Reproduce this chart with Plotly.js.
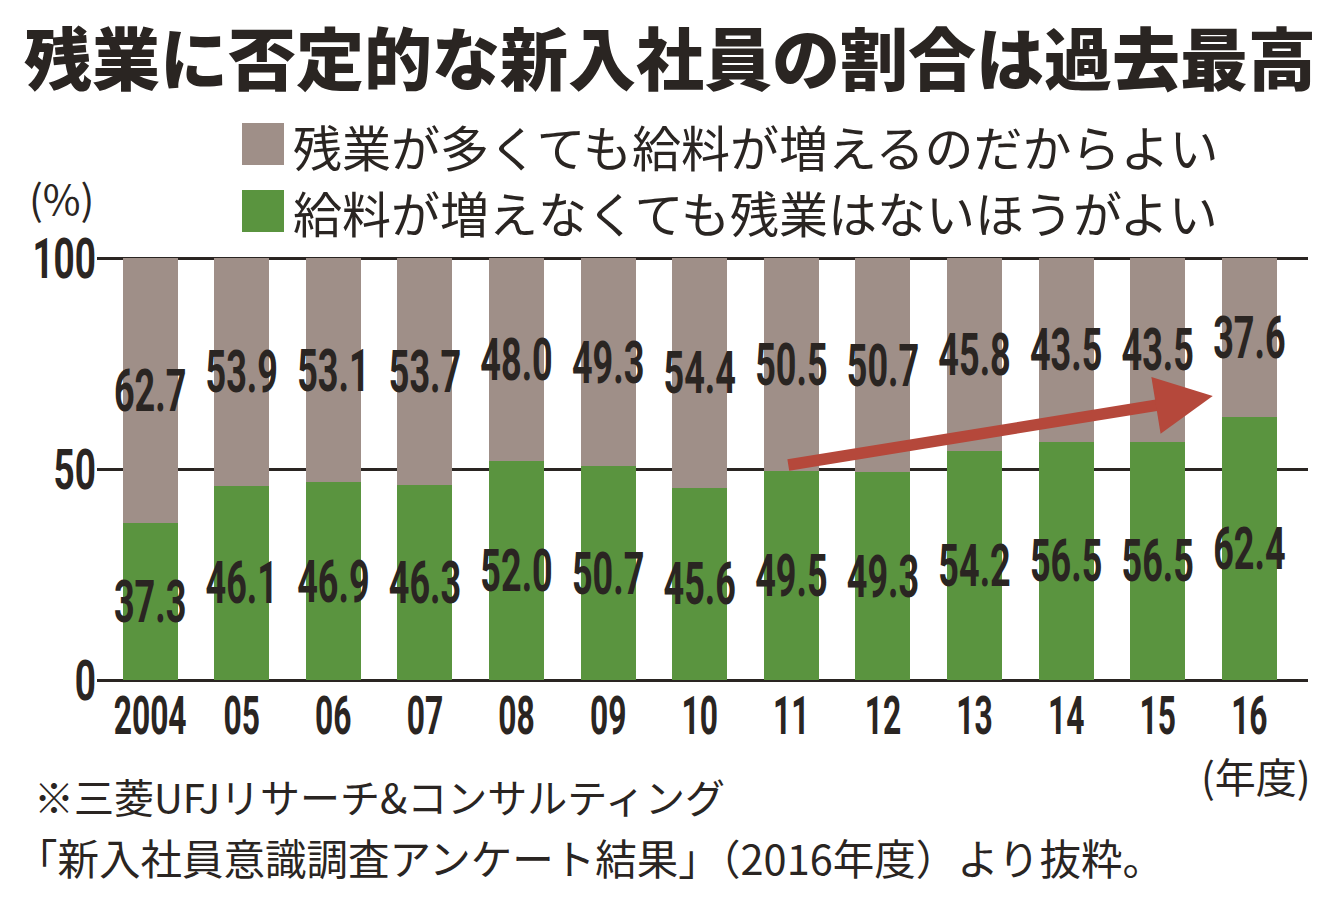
<!DOCTYPE html>
<html>
<head>
<meta charset="utf-8">
<script src="https://cdn.plot.ly/plotly-3.0.1.min.js"></script>
<style>html,body{margin:0;padding:0;background:#fff;}#chart{width:1340px;height:906px;}</style>
</head>
<body>
<div id="chart"></div>
<script>
const years = ['2004','05','06','07','08','09','10','11','12','13','14','15','16'];
const noOvertime = [37.3,46.1,46.9,46.3,52.0,50.7,45.6,49.5,49.3,54.2,56.5,56.5,62.4];
const overtimeOk = [62.7,53.9,53.1,53.7,48.0,49.3,54.4,50.5,50.7,45.8,43.5,43.5,37.6];
const seriesNames = ['給料が増えなくても残業はないほうがよい','残業が多くても給料が増えるのだからよい'];
const yTicks = [0,50,100];
const titleText = '残業に否定的な新入社員の割合は過去最高';
const noteLines = ['※三菱UFJリサーチ&コンサルティング','「新入社員意識調査アンケート結果」（2016年度）より抜粋。'];

const W = 1340, H = 906;
const M = {l: 97, r: 32, t: 256, b: 226};
const pw = W - M.l - M.r, ph = H - M.t - M.b;
const px = x => (x - M.l) / pw;
const py = y => (H - M.b - y) / ph;

const GREEN = '#5a943f', GRAY = '#9f8f88', INK = '#2a2522', RED = '#b5483b';
const NUM = 'Roboto, "DejaVu Sans", sans-serif';
const JP = '"Noto Sans CJK JP", "Noto Sans", sans-serif';

const common = {
  type: 'bar', x: years, textposition: 'inside', insidetextanchor: 'middle',
  textangle: 0, constraintext: 'none', texttemplate: '%{y:.1f}',
  insidetextfont: {family: NUM, size: 60, color: INK, weight: 'bold'},
  hoverinfo: 'skip', showlegend: false
};
const data = [
  Object.assign({}, common, {y: noOvertime, name: seriesNames[0], marker: {color: GREEN}}),
  Object.assign({}, common, {y: overtimeOk, name: seriesNames[1], marker: {color: GRAY}})
];

const layout = {
  width: W, height: H, margin: M, barmode: 'stack', bargap: 0.4,
  paper_bgcolor: '#fff', plot_bgcolor: '#fff',
  title: {text: titleText, x: 0.5, xanchor: 'center', y: 1 - 61/H, yanchor: 'middle',
          font: {family: JP, size: 68, color: INK, weight: 900}},
  xaxis: {type: 'category', range: [-0.58, 12.64], showgrid: false, zeroline: false,
          showline: false, ticks: '', tickangle: 0,
          tickfont: {family: NUM, size: 53, color: INK, weight: 'bold'}, fixedrange: true},
  yaxis: {range: [0, 100.5], tickvals: yTicks, ticktext: yTicks.map(String),
          showgrid: true, gridcolor: INK, gridwidth: 3, zeroline: true, zerolinecolor: INK,
          zerolinewidth: 3, showline: false, ticks: '',
          tickfont: {family: NUM, size: 56, color: INK, weight: 'bold'}, fixedrange: true},
  shapes: [
    {type: 'rect', xref: 'paper', yref: 'paper', x0: px(242), x1: px(284), y0: py(165), y1: py(123), fillcolor: GRAY, line: {width: 0}},
    {type: 'rect', xref: 'paper', yref: 'paper', x0: px(242), x1: px(284), y0: py(232), y1: py(190), fillcolor: GREEN, line: {width: 0}}
  ],
  annotations: [
    {xref: 'paper', yref: 'paper', x: px(291), y: py(146), xanchor: 'left', yanchor: 'middle', showarrow: false,
     text: seriesNames[1], font: {family: JP, size: 49, color: INK}},
    {xref: 'paper', yref: 'paper', x: px(291), y: py(212), xanchor: 'left', yanchor: 'middle', showarrow: false,
     text: seriesNames[0], font: {family: JP, size: 49, color: INK}},
    {xref: 'paper', yref: 'paper', x: px(27), y: py(197), xanchor: 'left', yanchor: 'middle', showarrow: false,
     text: '(%)', font: {family: JP, size: 41, color: INK}},
    {xref: 'paper', yref: 'paper', x: px(1313), y: py(775), xanchor: 'right', yanchor: 'middle', showarrow: false,
     text: '(年度)', font: {family: JP, size: 41, color: INK}},
    {xref: 'paper', yref: 'paper', x: px(32), y: py(796), xanchor: 'left', yanchor: 'middle', showarrow: false,
     text: noteLines[0], font: {family: JP, size: 40, color: INK}},
    {xref: 'paper', yref: 'paper', x: px(14), y: py(857), xanchor: 'left', yanchor: 'middle', showarrow: false,
     text: noteLines[1], font: {family: JP, size: 41.5, color: INK}},
    {xref: 'x', yref: 'y', x: 11.6, y: 67.3, axref: 'x', ayref: 'y', ax: 6.95, ay: 50.9,
     showarrow: true, arrowhead: 2, arrowsize: 1, arrowwidth: 11.5, arrowcolor: RED, standoff: 0, text: ''}
  ]
};

// Narrow the numeric labels horizontally (condensed look) around their anchor point.
function squeeze(sel, f, anchor) {
  document.querySelectorAll(sel).forEach(t => {
    const bb = t.getBBox();
    const ax = anchor === 'end' ? bb.x + bb.width : bb.x + bb.width / 2;
    const prev = t.getAttribute('transform') || '';
    t.setAttribute('transform', prev + ' translate(' + ax + ',0) scale(' + f + ',1) translate(' + (-ax) + ',0)');
  });
}

Plotly.newPlot('chart', data, layout, {staticPlot: true, displayModeBar: false}).then(() => {
  squeeze('text.bartext', 0.6, 'middle');
  squeeze('g.xtick text', 0.6, 'middle');
  squeeze('g.ytick text', 0.66, 'end');
});
</script>
</body>
</html>
